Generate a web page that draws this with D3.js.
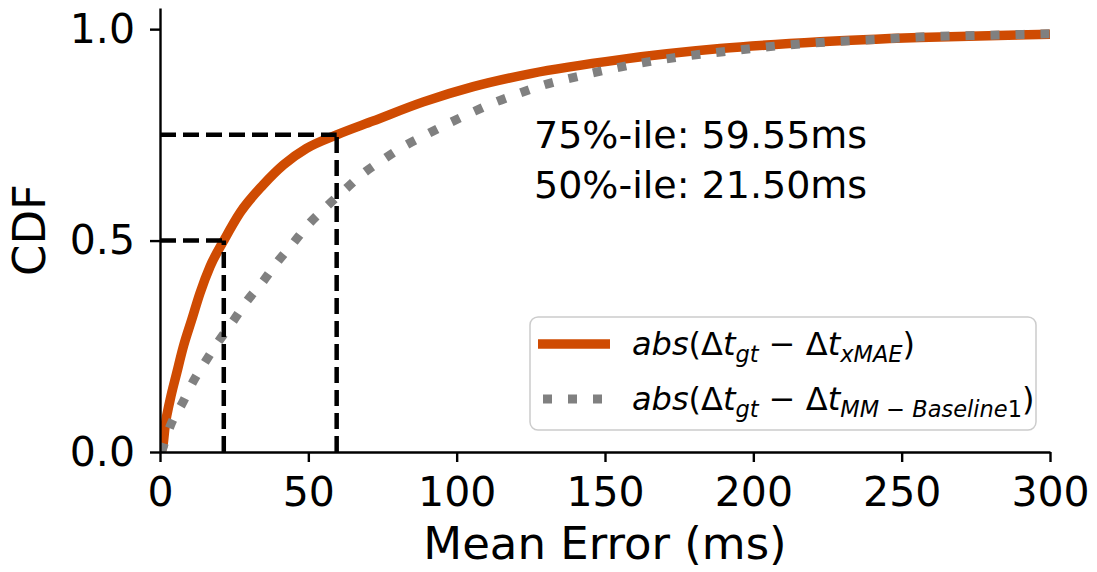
<!DOCTYPE html>
<html>
<head>
<meta charset="utf-8">
<script src="https://cdn.jsdelivr.net/npm/d3@7"></script>
<style>
  body { margin: 0; background: #fff; }
  svg text { font-family: "DejaVu Sans", sans-serif; fill: #000; }
</style>
</head>
<body>
<div id="chart"></div>
<script>
// CDF-Kurven (Fehler in ms, kumulierte Anteile)
var xmaeErr = [0.4, 1.1, 1.7, 3.4, 5.6, 7.9, 10.7, 13.5, 16.9, 21.5, 27, 34.8, 41.6, 49.4, 59.55, 71.9, 88.8, 105.6, 125, 155, 188.8, 222.5, 256, 300];
var xmaeCdf = [0.0, 0.021, 0.06, 0.123, 0.186, 0.25, 0.313, 0.376, 0.439, 0.50, 0.566, 0.632, 0.679, 0.718, 0.75, 0.783, 0.828, 0.864, 0.895, 0.928, 0.954, 0.970, 0.980, 0.988];

var baseErr = [0.5, 1.1, 3.6, 7.5, 11.2, 15.5, 19.7, 24.5, 29.2, 34.8, 39.3, 44.9, 50, 56.2, 61.8, 68, 75.3, 82, 89.3, 96.6, 104.5, 111.8, 120.2, 128, 143.8, 160, 176, 192.7, 209, 225.8, 242, 258.4, 275, 300];
var baseCdf = [0.0, 0.013, 0.064, 0.115, 0.167, 0.216, 0.261, 0.308, 0.356, 0.404, 0.447, 0.494, 0.538, 0.581, 0.617, 0.656, 0.692, 0.722, 0.749, 0.775, 0.801, 0.824, 0.846, 0.865, 0.893, 0.917, 0.935, 0.949, 0.961, 0.970, 0.976, 0.982, 0.985, 0.989];

// Perzentile
var quantLevels = [0.5, 0.75];
var quantValues = [21.50, 59.55];
var quantLabels = ["75%-ile: 59.55ms", "50%-ile: 21.50ms"];

var xTicks = [0, 50, 100, 150, 200, 250, 300];
var yTicks = [0, 0.5, 1.0];

var W = 1097, H = 572;
var margin = { top: 8, right: 47, bottom: 120, left: 160 };
var width = W - margin.left - margin.right;
var height = H - margin.top - margin.bottom;

var orange = "#cf4b02";
var grey = "#808080";

var svg = d3.select("#chart").append("svg")
  .attr("width", W)
  .attr("height", H);

var g = svg.append("g")
  .attr("transform", "translate(" + margin.left + "," + margin.top + ")");

var x = d3.scaleLinear().domain([0, 300]).range([0, width]);
var y = d3.scaleLinear().domain([0, 1.05]).range([height, 0]);

g.append("clipPath").attr("id", "clip")
  .append("rect").attr("width", width).attr("height", height);

var line = d3.line()
  .x(function (d) { return x(d[0]); })
  .y(function (d) { return y(d[1]); })
  .curve(d3.curveMonotoneX);

var xmaeData = xmaeErr.map(function (v, i) { return [v, xmaeCdf[i]]; });
var baseData = baseErr.map(function (v, i) { return [v, baseCdf[i]]; });

var curves = g.append("g").attr("clip-path", "url(#clip)");

curves.append("path")
  .datum(xmaeData)
  .attr("d", line)
  .attr("fill", "none")
  .attr("stroke", orange)
  .attr("stroke-width", 9.5);

curves.append("path")
  .datum(baseData)
  .attr("d", line)
  .attr("fill", "none")
  .attr("stroke", grey)
  .attr("stroke-width", 9)
  .attr("stroke-dasharray", "9,16");

// gestrichelte Hilfslinien fuer die Perzentile
quantValues.forEach(function (q, i) {
  g.append("line")
    .attr("x1", x(0)).attr("x2", x(q))
    .attr("y1", y(quantLevels[i])).attr("y2", y(quantLevels[i]))
    .attr("stroke", "#000").attr("stroke-width", 4.5)
    .attr("stroke-dasharray", "16,7");
  g.append("line")
    .attr("x1", x(q)).attr("x2", x(q))
    .attr("y1", y(0)).attr("y2", y(quantLevels[i]))
    .attr("stroke", "#000").attr("stroke-width", 4.5)
    .attr("stroke-dasharray", "16,7");
});

// Achsen
var xAxis = d3.axisBottom(x).tickValues(xTicks).tickSize(10).tickSizeOuter(0).tickPadding(15)
  .tickFormat(d3.format("d"));
var yAxis = d3.axisLeft(y).tickValues(yTicks).tickSize(10).tickSizeOuter(0).tickPadding(15)
  .tickFormat(d3.format(".1f"));

var gx = g.append("g").attr("transform", "translate(0," + height + ")").call(xAxis);
var gy = g.append("g").call(yAxis);

[gx, gy].forEach(function (a) {
  a.selectAll("path").attr("stroke", "#000").attr("stroke-width", 2.4);
  a.selectAll("line").attr("stroke", "#000").attr("stroke-width", 2.4);
  a.selectAll("text").attr("font-size", 41).attr("font-family", "DejaVu Sans").attr("fill", "#000");
});

svg.append("text")
  .attr("x", margin.left + width / 2)
  .attr("y", 559)
  .attr("text-anchor", "middle")
  .attr("font-size", 45)
  .text("Mean Error (ms)");

svg.append("text")
  .attr("transform", "translate(45," + (margin.top + height / 2) + ") rotate(-90)")
  .attr("text-anchor", "middle")
  .attr("font-size", 45)
  .text("CDF");

// Textannotation
quantLabels.forEach(function (t, i) {
  svg.append("text")
    .attr("x", 534)
    .attr("y", 148 + i * 50)
    .attr("font-size", 38)
    .text(t);
});

// Legende
var leg = svg.append("g");
leg.append("rect")
  .attr("x", 530).attr("y", 317)
  .attr("width", 506).attr("height", 113)
  .attr("rx", 8).attr("ry", 8)
  .attr("fill", "#fff").attr("fill-opacity", 0.8)
  .attr("stroke", "#cccccc").attr("stroke-width", 1.5);

leg.append("line")
  .attr("x1", 538).attr("x2", 610).attr("y1", 344).attr("y2", 344)
  .attr("stroke", orange).attr("stroke-width", 9.5);
leg.append("line")
  .attr("x1", 543).attr("x2", 610).attr("y1", 399).attr("y2", 399)
  .attr("stroke", grey).attr("stroke-width", 9)
  .attr("stroke-dasharray", "9,16");

// [text, kursiv, tiefgestellt]
var legRows = [
  [["abs", 1, 0], ["(\u0394", 0, 0], ["t", 1, 0], ["gt", 1, 1], [" \u2212 \u0394", 0, 0], ["t", 1, 0], ["xMAE", 1, 1], [")", 0, 0]],
  [["abs", 1, 0], ["(\u0394", 0, 0], ["t", 1, 0], ["gt", 1, 1], [" \u2212 \u0394", 0, 0], ["t", 1, 0], ["MM", 1, 1], [" \u2212 ", 0, 1], ["Baseline", 1, 1], ["1", 0, 1], [")", 0, 0]]
];

legRows.forEach(function (row, r) {
  var t = leg.append("text")
    .attr("x", 632).attr("y", 355 + r * 55)
    .attr("font-size", 32)
    .attr("xml:space", "preserve");
  var wasSub = false;
  row.forEach(function (s) {
    var sp = t.append("tspan")
      .attr("font-style", s[1] ? "italic" : "normal")
      .text(s[0]);
    if (s[2]) {
      sp.attr("font-size", 22.5);
      if (!wasSub) sp.attr("dy", 7);
    } else if (wasSub) {
      sp.attr("dy", -7);
    }
    wasSub = !!s[2];
  });
});
</script>
</body>
</html>
